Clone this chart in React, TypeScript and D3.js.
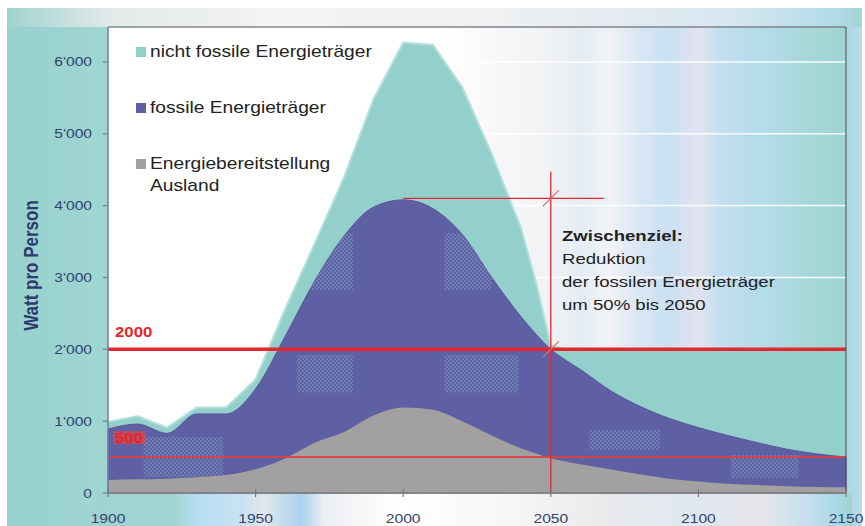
import React from 'react';
import * as d3 from 'd3';

// Watt pro Person
const years = [1900, 1910, 1920, 1930, 1940, 1950, 1960, 1970, 1980, 1990, 2000, 2010, 2020, 2030, 2040, 2045, 2050, 2055, 2060, 2070, 2080, 2090, 2100, 2110, 2120, 2130, 2140, 2150];
const totalWatt = [990, 1070, 910, 1190, 1190, 1580, 2560, 3470, 4400, 5490, 6270, 6240, 5650, 4720, 3680, 2930, 2060, 2000, 2000, 2000, 2000, 2000, 2000, 2000, 2000, 2000, 2000, 2000];
const fossilWatt = [890, 960, 830, 1100, 1100, 1450, 2180, 2950, 3580, 3980, 4080, 3960, 3600, 3000, 2450, 2210, 2000, 1850, 1720, 1430, 1210, 1040, 910, 800, 700, 610, 545, 500];
const auslandWatt = [180, 190, 200, 220, 250, 330, 480, 700, 850, 1080, 1190, 1160, 1000, 800, 620, 550, 480, 440, 400, 330, 260, 200, 160, 130, 110, 95, 85, 80];

const yTicks = [0, 1000, 2000, 3000, 4000, 5000, 6000];
const gridTicks = [3000, 4000, 5000, 6000];
const xTicks = [1900, 1950, 2000, 2050, 2100, 2150];

const legendLabels = [['nicht fossile Energieträger'], ['fossile Energieträger'], ['Energiebereitstellung', 'Ausland']];
const legendColors = ['#93cfcb', '#5f5fa3', '#a2a0a0'];

const noteLines = ['Zwischenziel:', 'Reduktion', 'der fossilen Energieträger', 'um 50% bis 2050'];

// reference levels
const society = 2000;
const fossilGoal = 500;
const milestoneYear = 2050;
const peakYear = 2000;
const peakLevel = 4100;
const milestoneTop = 4470;
const peakLineEnd = 2068;

// textured patches seen inside the fossil band [year0, year1, watt0, watt1]
const patches = [
  [1964, 1983, 2830, 3620], [2014, 2030, 2830, 3620],
  [1964, 1983, 1400, 1920], [2014, 2039, 1400, 1920],
  [1912, 1939, 220, 780], [2063, 2087, 600, 880], [2111, 2134, 210, 530],
];

const W = 865, H = 526;
const M = { left: 108, right: 846, top: 26, bottom: 493 };
const SX = 1.2; // the picture is stretched horizontally

const fmt = d3.formatLocale({ decimal: '.', thousands: "'", grouping: [3], currency: ['', ''] }).format(',d');

const T = ({ x, y, anchor = 'start', size = 15, weight = 'normal', fill = '#222', children }) => (
  <text transform={`translate(${x},${y}) scale(${SX},1)`} textAnchor={anchor} fontSize={size}
    fontWeight={weight} fill={fill} fontFamily="Liberation Sans, Arial, sans-serif">{children}</text>
);

const Stripes = ({ id, stops, vertical = false }) => (
  <linearGradient id={id} x1="0" y1="0" x2={vertical ? 0 : 1} y2={vertical ? 1 : 0}>
    {stops.map(([o, c], i) => <stop key={i} offset={o} stopColor={c} />)}
  </linearGradient>
);

export default function App() {
  const x = d3.scaleLinear().domain([1900, 2150]).range([M.left, M.right]);
  const y = d3.scaleLinear().domain([0, 6500]).range([M.bottom, M.top]);

  const rows = years.map((yr, i) => ({ yr, total: totalWatt[i], fossil: fossilWatt[i], ausland: auslandWatt[i] }));

  const totalArea = d3.area().x(d => x(d.yr)).y0(y(0)).y1(d => y(d.total)).curve(d3.curveLinear);
  const totalLine = d3.line().x(d => x(d.yr)).y(d => y(d.total)).curve(d3.curveLinear);
  const fossilArea = d3.area().x(d => x(d.yr)).y0(y(0)).y1(d => y(d.fossil)).curve(d3.curveMonotoneX);
  const fossilBand = d3.area().x(d => x(d.yr)).y0(d => y(d.ausland)).y1(d => y(d.fossil)).curve(d3.curveMonotoneX);
  const auslandArea = d3.area().x(d => x(d.yr)).y0(y(0)).y1(d => y(d.ausland)).curve(d3.curveMonotoneX);

  const red = '#e5262d';
  const mx = x(milestoneYear);

  return (
    <svg width={W} height={H} style={{ position: 'absolute', left: 0, top: 0 }}>
      <defs>
        <Stripes id="outer" stops={[[0, '#97d1ce'], [0.12, '#a0d5d2'], [0.5, '#a9d9d6'], [0.97, '#a3d6d4'], [1, '#b9dcec']]} />
        <Stripes id="topband" stops={[[0, '#9fd3d0'], [0.12, '#e3e9e9'], [0.3, '#f2f3f3'], [0.55, '#f0f2f2'], [0.7, '#e6ebf1'], [0.85, '#d6e6f0'], [0.96, '#b5dcea'], [1, '#a4d6d5']]} />
        <Stripes id="bottom" stops={[[0, '#9fd3d0'], [0.1, '#a2d4d2'], [0.13, '#b8ddf2'], [0.19, '#c7e2f5'], [0.22, '#e0e7ee'], [0.27, '#a9d3ec'], [0.3, '#eceff2'], [0.4, '#ffffff'], [0.55, '#f6f6f6'], [0.68, '#e9e9ec'], [0.78, '#dfe8f0'], [0.88, '#e6e6ea'], [0.94, '#c6e0ef'], [0.98, '#a9d9e6'], [1, '#9fd3d0']]} />
        <Stripes id="plotbg" stops={[[0, '#ffffff'], [0.45, '#ffffff'], [0.52, '#f8f8fa'], [0.6, '#f0f2f4'], [0.64, '#e4ecf4'], [0.68, '#f2f2f6'], [0.72, '#d9e6f3'], [0.76, '#c9e0f2'], [0.8, '#e3e3f0'], [0.83, '#c2dff0'], [0.88, '#b6dcec'], [0.92, '#aed9e2'], [0.96, '#a5d7d6'], [1, '#9ed4d2']]} />
        <pattern id="checker" width="4" height="4" patternUnits="userSpaceOnUse">
          <rect width="2" height="2" fill="#86b4c8" />
          <rect x="2" y="2" width="2" height="2" fill="#86b4c8" />
        </pattern>
        <clipPath id="fossilClip"><path d={fossilBand(rows)} /></clipPath>
      </defs>

      {/* backgrounds */}
      <rect x={7} y={8} width={855} height={H - 8} fill="url(#outer)" />
      <rect x={7} y={8} width={855} height={M.top - 7} fill="url(#topband)" />
      <rect x={M.left - 10} y={M.bottom} width={M.right - M.left + 16} height={H - M.bottom} fill="url(#bottom)" />
      <rect x={M.left} y={M.top} width={M.right - M.left} height={M.bottom - M.top} fill="url(#plotbg)" />
      {gridTicks.map(t => (
        <line key={t} x1={M.left} x2={M.right} y1={y(t)} y2={y(t)} stroke="#ffffff" strokeWidth={1.5} opacity={0.9} />
      ))}

      {/* areas */}
      <path d={totalArea(rows)} fill="#93cfcb" />
      <path d={totalLine(rows)} fill="none" stroke="#b6e0dd" strokeWidth={2} />
      <path d={fossilArea(rows)} fill="#5f5fa3" stroke="#58579a" strokeWidth={1} />
      <g clipPath="url(#fossilClip)" opacity={0.38}>
        {patches.map(([a, b, lo, hi], i) => (
          <rect key={i} x={x(a)} y={y(hi)} width={x(b) - x(a)} height={y(lo) - y(hi)} fill="url(#checker)" />
        ))}
      </g>
      <path d={auslandArea(rows)} fill="#a2a0a0" />

      {/* reference lines */}
      <line x1={M.left} x2={M.right} y1={y(fossilGoal)} y2={y(fossilGoal)} stroke="#e0403f" strokeWidth={2} opacity={0.9} />
      <line x1={M.left} x2={M.right} y1={y(society)} y2={y(society)} stroke={red} strokeWidth={3.5} />
      <line x1={mx} x2={mx} y1={y(milestoneTop)} y2={M.bottom} stroke={red} strokeWidth={1.3} />
      <line x1={x(peakYear)} x2={x(peakLineEnd)} y1={y(peakLevel)} y2={y(peakLevel)} stroke={red} strokeWidth={1.3} />
      {[peakLevel, society].map(v => (
        <line key={v} x1={mx - 8} x2={mx + 8} y1={y(v) + 8} y2={y(v) - 8} stroke="#d07070" strokeWidth={1.2} />
      ))}

      {/* axes and frame */}
      <line x1={M.left} x2={M.right} y1={M.top + 1} y2={M.top + 1} stroke="#80858a" strokeWidth={1.3} />
      <line x1={M.right} x2={M.right} y1={M.top + 1} y2={M.bottom} stroke="#3f4d5c" strokeWidth={1} />
      <line x1={M.left} x2={M.left} y1={M.top + 1} y2={M.bottom} stroke="#6d80a8" strokeWidth={1.5} />
      <line x1={M.left} x2={M.right} y1={M.bottom} y2={M.bottom} stroke="#7a7a7a" strokeWidth={1.5} />
      {yTicks.map(t => (
        <g key={t}>
          <line x1={M.left - 5} x2={M.left} y1={y(t)} y2={y(t)} stroke="#6d80a8" strokeWidth={1.2} />
          <T x={M.left - 16} y={y(t) + 4.5} anchor="end" size={13} fill="#34446e">{fmt(t)}</T>
        </g>
      ))}
      {xTicks.map(t => (
        <g key={t}>
          <line x1={x(t)} x2={x(t)} y1={M.bottom - 4} y2={M.bottom + 4} stroke="#7a7a7a" strokeWidth={1.2} />
          <T x={x(t)} y={M.bottom + 30} anchor="middle" size={13} fill="#34446e">{t}</T>
        </g>
      ))}
      <text transform={`translate(38,${(M.top + M.bottom) / 2 + 6}) scale(${SX},1) rotate(-90)`} textAnchor="middle"
        fontSize={17} fontWeight="bold" fill="#2e3c6c" fontFamily="Liberation Sans, Arial, sans-serif">Watt pro Person</text>

      {/* level labels */}
      <T x={M.left + 7} y={y(society) - 12} size={14} weight="bold" fill={red}>{String(society)}</T>
      <rect x={M.left + 5} y={y(fossilGoal) - 26} width={33} height={13} fill="#d8474c" opacity={0.7} />
      <T x={M.left + 7} y={y(fossilGoal) - 14} size={14} weight="bold" fill="#e8242a">{String(fossilGoal)}</T>

      {/* legend */}
      {legendLabels.map((lines, i) => {
        const base = 57 + i * 56;
        return (
          <g key={i}>
            <rect x={136} y={base - 10} width={10} height={10} fill={legendColors[i]} />
            {lines.map((l, j) => <T key={j} x={150} y={base + j * 22} size={16}>{l}</T>)}
          </g>
        );
      })}

      {/* milestone note */}
      {noteLines.map((l, i) => (
        <T key={i} x={562} y={241 + i * 23} size={15.5} weight={i === 0 ? 'bold' : 'normal'}>{l}</T>
      ))}
    </svg>
  );
}
